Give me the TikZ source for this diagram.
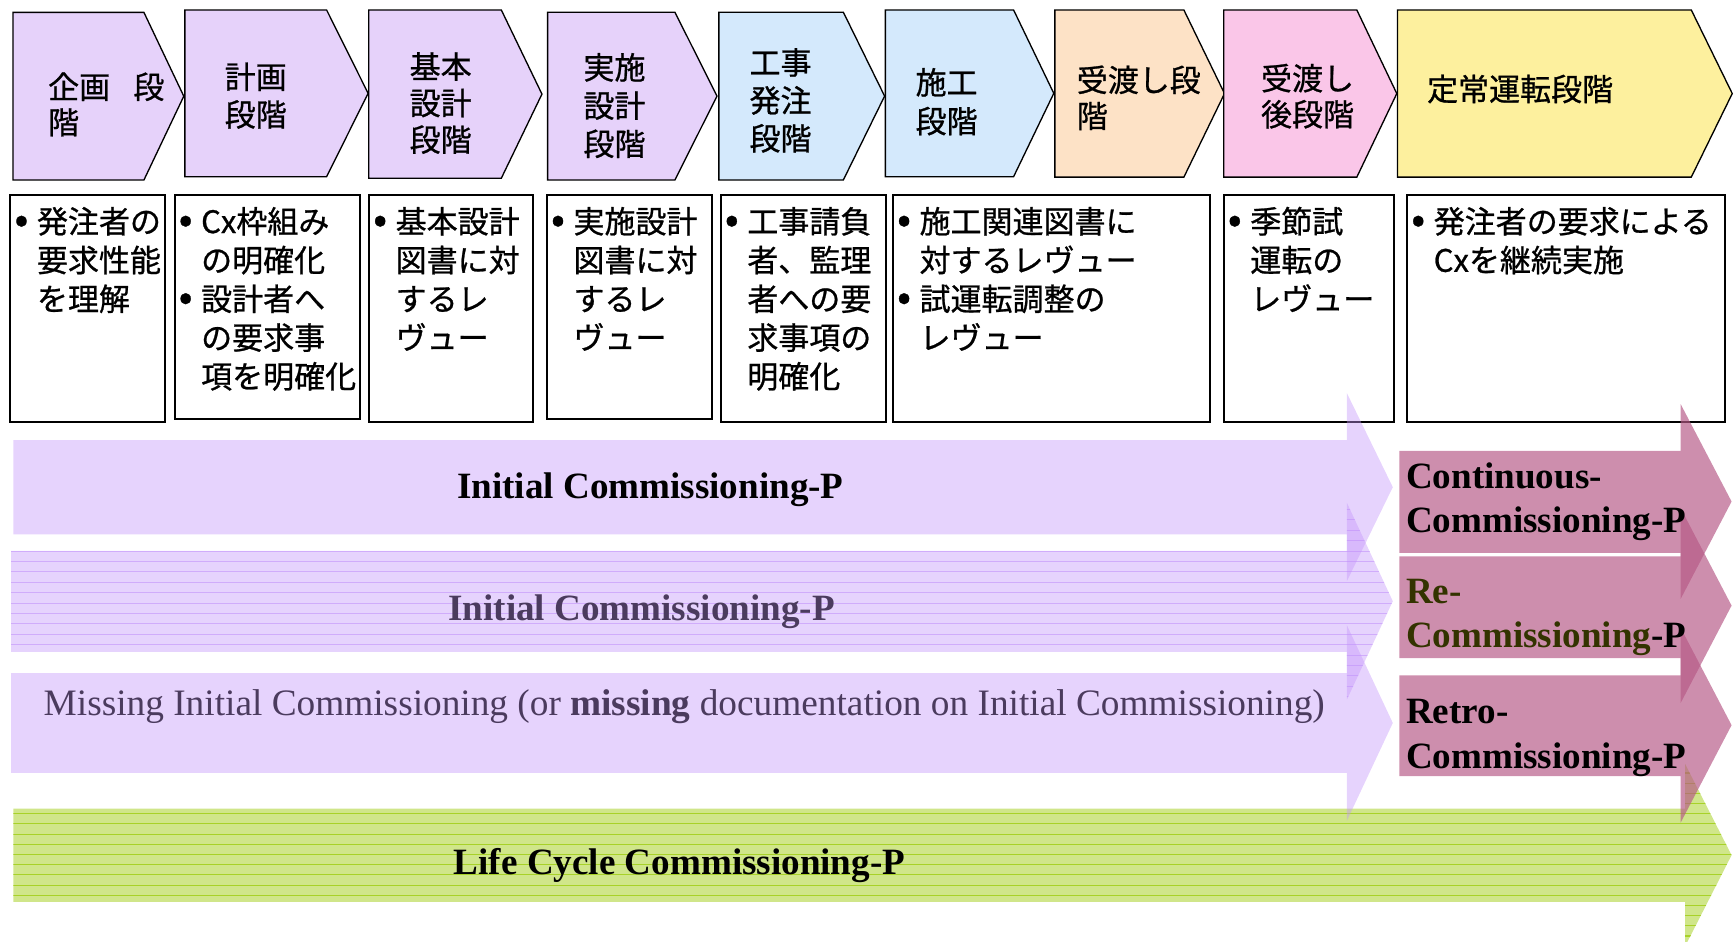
\documentclass[tikz,border=0pt]{standalone}
\usepackage{fontspec}
\newfontfamily\jp[FakeBold=0.8]{Noto Sans CJK JP}
\newfontfamily\tnr{Liberation Serif}
\definecolor{lavchev}{RGB}{230,210,250}
\definecolor{bluechev}{RGB}{212,233,252}
\definecolor{orangechev}{RGB}{253,226,198}
\definecolor{pinkchev}{RGB}{250,198,232}
\definecolor{yellowchev}{RGB}{253,240,158}
\definecolor{lavbase}{RGB}{196,150,250}
\definecolor{lavline}{RGB}{190,140,250}
\definecolor{pinkbase}{RGB}{182,89,134}
\definecolor{greenfill}{RGB}{208,230,138}
\definecolor{greenline}{RGB}{168,210,40}
\definecolor{bandtext}{RGB}{75,59,94}
\definecolor{olivetext}{RGB}{51,51,0}
\newcommand\jlines[2]{\vtop{\baselineskip=#1\lineskiplimit=-100pt\lineskip=0pt\relax #2}}
\newcommand\bul{\makebox[20pt][c]{\scalebox{1.3}{•}}\hspace{4pt}}
\newcommand\ind{\hspace*{24pt}}
\newcommand\chevshape[6]{\path[chev,fill=#6] (#1,#2) -- (#3,#2) -- (#4,{(#2+#5)/2}) -- (#3,#5) -- (#1,#5) -- cycle;}
\begin{document}
\begin{tikzpicture}[x=1pt,y=-1pt,
  chev/.style={draw=black,line width=1.2pt,line join=miter},
  tbox/.style={draw=black,line width=1.8pt},
  jt/.style={inner sep=0pt,outer sep=0pt,anchor=base west,font=\jp\fontsize{28}{35}\selectfont},
  et/.style={inner sep=0pt,outer sep=0pt,font=\tnr\bfseries\fontsize{33.5}{40}\selectfont},
  lav/.style={fill=lavbase,fill opacity=0.42},
  pinka/.style={fill=pinkbase,fill opacity=0.68}]
\useasboundingbox (0,0) rectangle (1568,850);
% phase chevrons
\chevshape{11.7}{11.2}{130}{166}{162.6}{lavchev}
\chevshape{167}{9}{295}{332.5}{159.6}{lavchev}
\chevshape{333}{9}{452.8}{489.5}{161}{lavchev}
\chevshape{494.6}{11}{609.6}{647.6}{162.6}{lavchev}
\chevshape{649.3}{11}{761.7}{799}{162.6}{bluechev}
\chevshape{799.7}{9}{915.5}{951.8}{159.6}{bluechev}
\chevshape{952.8}{9}{1069.3}{1106}{160}{orangechev}
\chevshape{1105.3}{9}{1225.5}{1261.6}{160}{pinkchev}
\chevshape{1262.3}{9}{1527.6}{1564.6}{160}{yellowchev}
% description boxes
\draw[tbox] (9.4,176) rectangle (148.7,381);
\draw[tbox] (157.7,176) rectangle (324.8,378.6);
\draw[tbox] (333.4,176) rectangle (481,381);
\draw[tbox] (494,176) rectangle (643,378.6);
\draw[tbox] (651,176) rectangle (800.4,381);
\draw[tbox] (806.6,176) rectangle (1093,381);
\draw[tbox] (1105.3,176) rectangle (1259.3,381);
\draw[tbox] (1271,176) rectangle (1558.4,381);
% life cycle band
\begin{scope}
\path[fill=greenfill] (12,730.4) -- (1522,730.4) -- (1522,690) -- (1564,772.4) -- (1522,854.8) -- (1522,814.5) -- (12,814.5) -- cycle;
\clip (12,730.4) -- (1522,730.4) -- (1522,690) -- (1564,772.4) -- (1522,854.8) -- (1522,814.5) -- (12,814.5) -- cycle;
\foreach \k in {0,...,18} \draw[greenline,line width=1pt] (0,{689+9.2*\k}) -- (1568,{689+9.2*\k});
\end{scope}
% initial commissioning bands
\path[lav] (12,397.5) -- (1216.5,397.5) -- (1216.5,355) -- (1258,440) -- (1216.5,525) -- (1216.5,482.6) -- (12,482.6) -- cycle;
\begin{scope}
\path[lav] (10,497.5) -- (1216.5,497.5) -- (1216.5,454) -- (1258,543) -- (1216.5,632) -- (1216.5,588.7) -- (10,588.7) -- cycle;
\clip (10,497.5) -- (1216.5,497.5) -- (1216.5,454) -- (1258,543) -- (1216.5,632) -- (1216.5,588.7) -- (10,588.7) -- cycle;
\foreach \k in {-5,...,14} \draw[lavline,line width=0.9pt,opacity=0.55] (0,{497.7+9.4*\k}) -- (1568,{497.7+9.4*\k});
\end{scope}
\path[lav] (10,608) -- (1216.5,608) -- (1216.5,564.6) -- (1258,653) -- (1216.5,741.4) -- (1216.5,698) -- (10,698) -- cycle;
% pink arrows
\path[pinka] (1264,407.2) -- (1518,407.2) -- (1518,365) -- (1564,453) -- (1518,541) -- (1518,499.4) -- (1264,499.4) -- cycle;
\path[pinka] (1264,502.6) -- (1518,502.6) -- (1518,459) -- (1564,547) -- (1518,635) -- (1518,594.4) -- (1264,594.4) -- cycle;
\path[pinka] (1264,610) -- (1518,610) -- (1518,567) -- (1564,655) -- (1518,743) -- (1518,701) -- (1264,701) -- cycle;
% chevron labels
\node[jt] (p1) at (43.5,89) {\jlines{32pt}{\hbox{企画\hspace{21pt}段}\hbox{階}}};
\node[jt] (p2) at (203,80) {\jlines{34pt}{\hbox{計画}\hbox{段階}}};
\node[jt] (p3) at (370,70.7) {\jlines{33pt}{\hbox{基本}\hbox{設計}\hbox{段階}}};
\node[jt] (p4) at (527,71.5) {\jlines{34.5pt}{\hbox{実施}\hbox{設計}\hbox{段階}}};
\node[jt] (p5) at (677,67) {\jlines{34.3pt}{\hbox{工事}\hbox{発注}\hbox{段階}}};
\node[jt] (p6) at (827,85) {\jlines{35pt}{\hbox{施工}\hbox{段階}}};
\node[jt] (p7) at (972.6,82.8) {\jlines{32.5pt}{\hbox{受渡し段}\hbox{階}}};
\node[jt] (p8) at (1139,81.3) {\jlines{32.5pt}{\hbox{受渡し}\hbox{後段階}}};
\node[jt] (p9) at (1289,91) {定常運転段階};
% box texts
\node[jt] (d1) at (9.4,210.5) {\jlines{35pt}{\hbox{\bul 発注者の}\hbox{\ind 要求性能}\hbox{\ind を理解}}};
\node[jt] (d2) at (157.7,210.5) {\jlines{35pt}{\hbox{\bul Cx枠組み}\hbox{\ind の明確化}\hbox{\bul 設計者へ}\hbox{\ind の要求事}\hbox{\ind 項を明確化}}};
\node[jt] (d3) at (333.4,210.5) {\jlines{35pt}{\hbox{\bul 基本設計}\hbox{\ind 図書に対}\hbox{\ind するレ}\hbox{\ind ヴュー}}};
\node[jt] (d4) at (494,210.5) {\jlines{35pt}{\hbox{\bul 実施設計}\hbox{\ind 図書に対}\hbox{\ind するレ}\hbox{\ind ヴュー}}};
\node[jt] (d5) at (651,210.5) {\jlines{35pt}{\hbox{\bul 工事請負}\hbox{\ind 者、監理}\hbox{\ind 者への要}\hbox{\ind 求事項の}\hbox{\ind 明確化}}};
\node[jt] (d6) at (806.6,210.5) {\jlines{35pt}{\hbox{\bul 施工関連図書に}\hbox{\ind 対するレヴュー}\hbox{\bul 試運転調整の}\hbox{\ind レヴュー}}};
\node[jt] (d7) at (1105.3,210.5) {\jlines{35pt}{\hbox{\bul 季節試}\hbox{\ind 運転の}\hbox{\ind レヴュー}}};
\node[jt] (d8) at (1271,210.5) {\jlines{35pt}{\hbox{\bul 発注者の要求による}\hbox{\ind Cxを継続実施}}};
% band texts
\node[et,anchor=base] (ic1) at (587.5,450) {Initial Commissioning-P};
\node[et,anchor=base,text=bandtext] (ic2) at (579.5,560) {Initial Commissioning-P};
\node[et,anchor=base west,text=bandtext,font=\tnr\fontsize{33.7}{40}\selectfont] (mic) at (39.5,646) {Missing Initial Commissioning (or \textbf{missing} documentation on Initial Commissioning)};
\node[et,anchor=base west] (lcc) at (410,790) {Life Cycle Commissioning-P};
\node[et,anchor=base west] (cc1) at (1270,441) {Continuous-};
\node[et,anchor=base west] (cc2) at (1270,481) {Commissioning-P};
\node[et,anchor=base west,text=olivetext] (rc1) at (1270,545) {Re-};
\node[et,anchor=base west] (rc2) at (1270,585) {\textcolor{olivetext}{Commissioning}-P};
\node[et,anchor=base west] (rt1) at (1270,653.6) {Retro-};
\node[et,anchor=base west] (rt2) at (1270,693.8) {Commissioning-P};
\end{tikzpicture}
\end{document}
